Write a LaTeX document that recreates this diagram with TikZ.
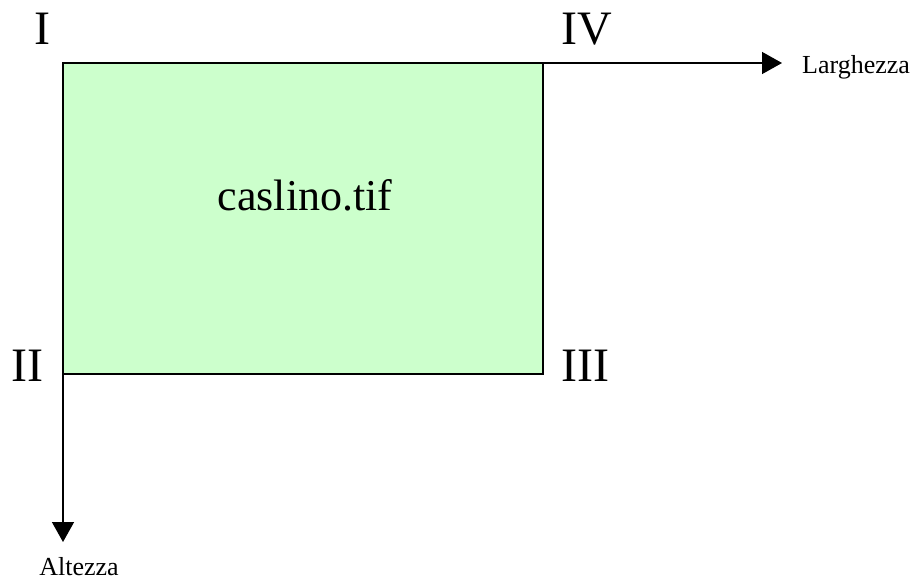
\documentclass[tikz,border=0pt]{standalone}
\usepackage{fontspec}
\setmainfont{Liberation Serif}
\usetikzlibrary{arrows.meta}

\begin{document}
\begin{tikzpicture}[x=1pt, y=-1pt,
    corner/.style={anchor=base, font=\fontsize{48}{50}\selectfont, inner sep=0pt},
    axislabel/.style={anchor=base, font=\fontsize{26}{28}\selectfont, inner sep=0pt}]
    \useasboundingbox (0,0) rectangle (915,581);
    \coordinate (NW) at (63,63);
    \coordinate (SE) at (543,374);
    \coordinate (SW) at (63,374);
    \coordinate (NE) at (543,63);
    \coordinate (XEnd) at (782,63);
    \coordinate (YEnd) at (63,542);
    \filldraw [fill={rgb,255:red,204;green,255;blue,204}, line width=2pt] (NW) rectangle (SE);
    \draw [-{Triangle[length=20pt, width=22pt]}, line width=1.5pt] (NE) -- (XEnd);
    \draw [-{Triangle[length=20pt, width=22pt]}, line width=1.5pt] (SW) -- (YEnd);
    \node (I) at (42,44) [corner] {I};
    \node (IV) at (587,44) [corner] {IV};
    \node (II) at (27,381) [corner] {II};
    \node (III) at (585,381) [corner] {III};
    \node (file) at (305,210) [anchor=base, inner sep=0pt, font=\fontsize{44}{46}\selectfont] {caslino.tif};
    \node (larg) at (802,73) [axislabel, anchor=base west] {Larghezza};
    \node (alt) at (79,575) [axislabel] {Altezza};
\end{tikzpicture}
\end{document}
